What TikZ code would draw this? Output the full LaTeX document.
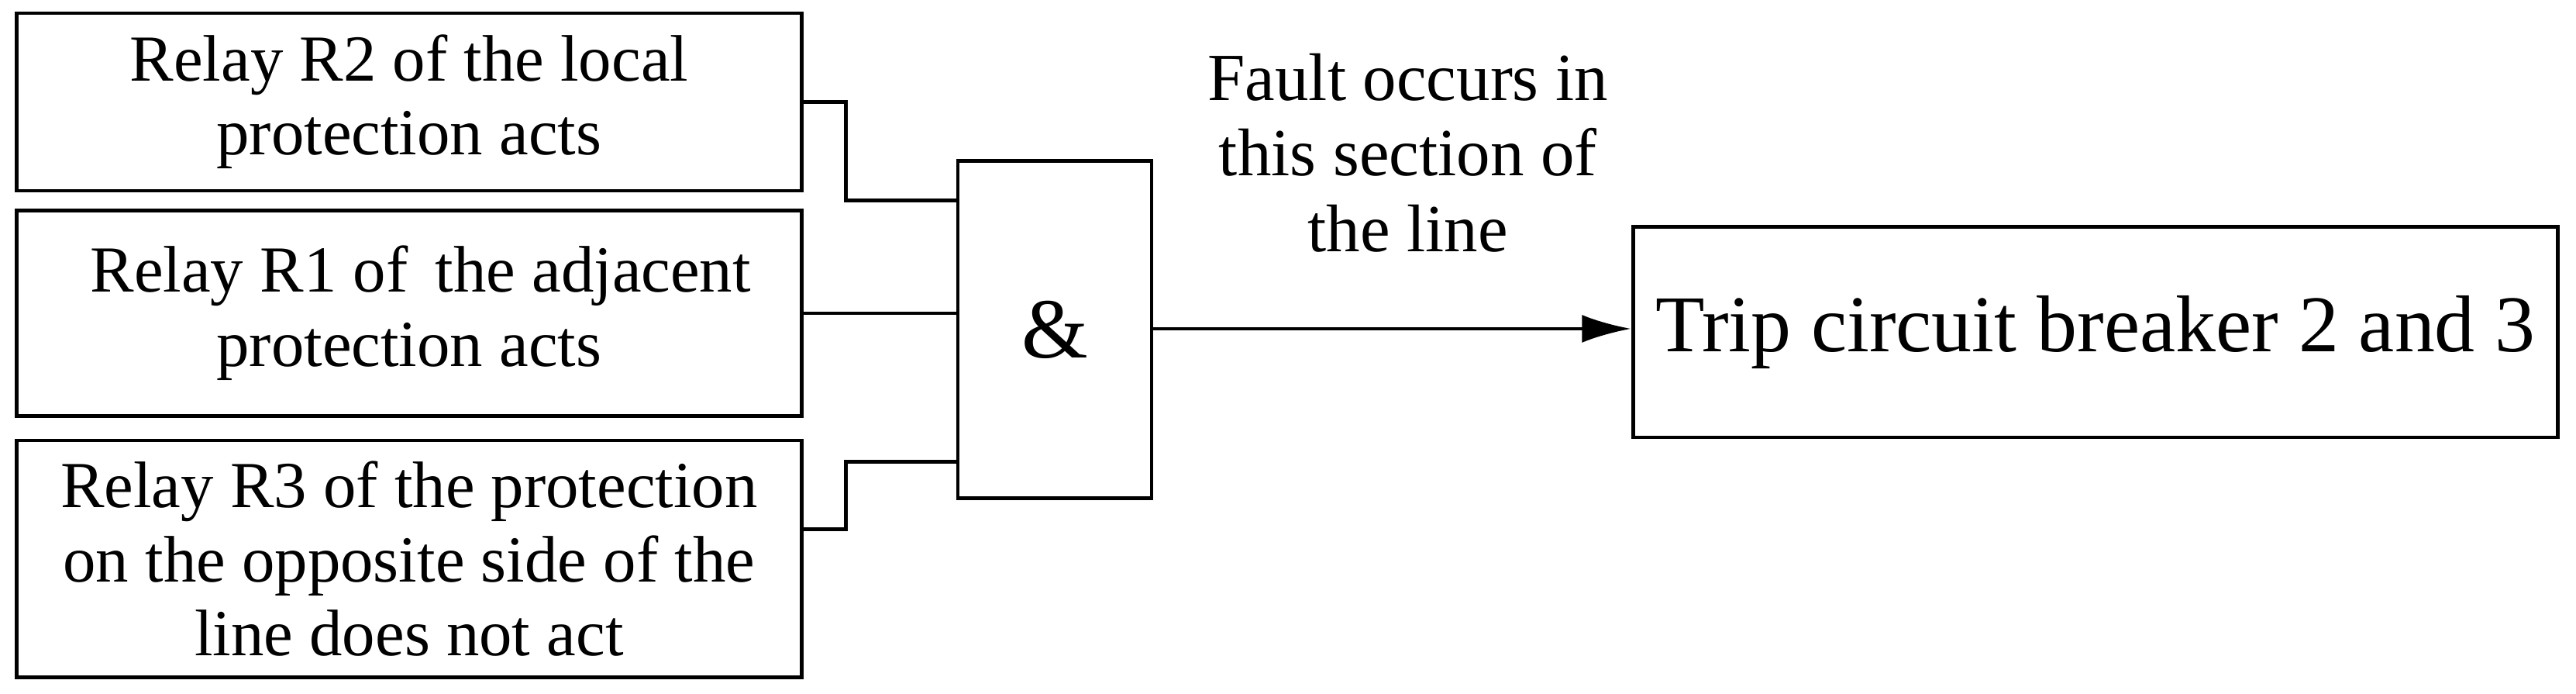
\documentclass[tikz,border=0pt]{standalone}
\usepackage{fontspec}
\setmainfont{Liberation Serif}
\usetikzlibrary{arrows.meta}
\begin{document}
\begin{tikzpicture}[x=1pt,y=-1pt,
  box/.style={draw,line width=2.2pt,inner sep=0pt,align=center,font=\fontsize{40}{45}\selectfont},
  wire/.style={line width=2.2pt}]
\useasboundingbox (0,0) rectangle (1568,422);
\node[box,minimum width=478pt,minimum height=108pt] (b1) at (249,62) {Relay R2 of the local\\protection acts};
\node[box,minimum width=478pt,minimum height=125pt] (b2) at (249,190.5) {\hspace*{14pt}Relay R1 of\, the adjacent\\protection acts};
\node[box,minimum width=478pt,minimum height=144pt] (b3) at (249,340) {Relay R3 of the protection\\on the opposite side of the\\line does not act};
\node[box,minimum width=118pt,minimum height=205pt,font=\fontsize{52}{56}\selectfont] (g) at (642,200.5) {\&};
\node[box,minimum width=563pt,minimum height=128pt,font=\fontsize{49}{56}\selectfont] (t) at (1275.5,202) {Trip circuit breaker 2 and 3};
\node[align=center,font=\fontsize{41}{46}\selectfont] (lab) at (857,93) {Fault occurs in\\this section of\\the line};
\coordinate (j1) at (515,62); \coordinate (j3) at (515,322);
\draw[wire] (b1.east |- j1) -- (j1) |- (g.west |- 0,122);
\draw[wire] (b2.east) -- (g.west |- b2.east);
\draw[wire] (b3.east |- j3) -- (j3) |- (g.west |- 0,281);
\draw[wire,-{Latex[length=30pt,width=17pt]}] (g.east |- 0,200) -- (t.west |- 0,200);
\end{tikzpicture}
\end{document}
